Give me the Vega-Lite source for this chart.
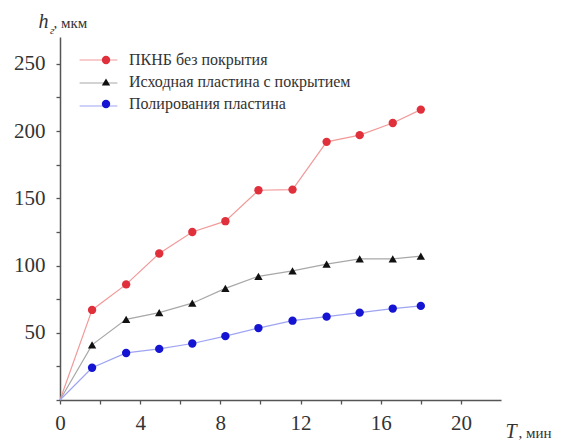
{
  "$schema": "https://vega.github.io/schema/vega-lite/v6.json",
  "width": 441,
  "height": 363,
  "autosize": {"type": "none"},
  "padding": {"left": 60, "top": 37, "right": 67, "bottom": 45},
  "background": "white",
  "config": {"view": {"stroke": null}, "font": "Liberation Serif"},
  "title": {"text": "г", "orient": "top", "anchor": "start", "frame": "group", "offset": 0, "dx": -10, "dy": 25, "font": "Liberation Serif", "fontSize": 11, "fontStyle": "italic", "fontWeight": "normal", "color": "#333"},
  "data": {"values": [
    {"t": 0, "h": 0, "s": "ПКНБ без покрытия"},
    {"t": 1.6, "h": 67, "s": "ПКНБ без покрытия"},
    {"t": 3.3, "h": 86, "s": "ПКНБ без покрытия"},
    {"t": 4.95, "h": 109, "s": "ПКНБ без покрытия"},
    {"t": 6.6, "h": 125, "s": "ПКНБ без покрытия"},
    {"t": 8.25, "h": 133, "s": "ПКНБ без покрытия"},
    {"t": 9.9, "h": 156, "s": "ПКНБ без покрытия"},
    {"t": 11.6, "h": 156.5, "s": "ПКНБ без покрытия"},
    {"t": 13.3, "h": 192, "s": "ПКНБ без покрытия"},
    {"t": 14.95, "h": 197, "s": "ПКНБ без покрытия"},
    {"t": 16.6, "h": 206, "s": "ПКНБ без покрытия"},
    {"t": 18, "h": 216, "s": "ПКНБ без покрытия"},
    {"t": 0, "h": 0, "s": "Исходная пластина с покрытием"},
    {"t": 1.6, "h": 41, "s": "Исходная пластина с покрытием"},
    {"t": 3.3, "h": 60, "s": "Исходная пластина с покрытием"},
    {"t": 4.95, "h": 65, "s": "Исходная пластина с покрытием"},
    {"t": 6.6, "h": 72, "s": "Исходная пластина с покрытием"},
    {"t": 8.25, "h": 83, "s": "Исходная пластина с покрытием"},
    {"t": 9.9, "h": 92, "s": "Исходная пластина с покрытием"},
    {"t": 11.6, "h": 96, "s": "Исходная пластина с покрытием"},
    {"t": 13.3, "h": 101, "s": "Исходная пластина с покрытием"},
    {"t": 14.95, "h": 105, "s": "Исходная пластина с покрытием"},
    {"t": 16.6, "h": 105, "s": "Исходная пластина с покрытием"},
    {"t": 18, "h": 107, "s": "Исходная пластина с покрытием"},
    {"t": 0, "h": 0, "s": "Полирования пластина"},
    {"t": 1.6, "h": 24, "s": "Полирования пластина"},
    {"t": 3.3, "h": 35, "s": "Полирования пластина"},
    {"t": 4.95, "h": 38, "s": "Полирования пластина"},
    {"t": 6.6, "h": 42, "s": "Полирования пластина"},
    {"t": 8.25, "h": 47.5, "s": "Полирования пластина"},
    {"t": 9.9, "h": 53.5, "s": "Полирования пластина"},
    {"t": 11.6, "h": 59, "s": "Полирования пластина"},
    {"t": 13.3, "h": 62, "s": "Полирования пластина"},
    {"t": 14.95, "h": 65, "s": "Полирования пластина"},
    {"t": 16.6, "h": 68, "s": "Полирования пластина"},
    {"t": 18, "h": 70, "s": "Полирования пластина"}
  ]},
  "layer": [
    {
      "mark": {"type": "line", "interpolate": "linear", "strokeWidth": 1.2},
      "encoding": {
        "x": {"field": "t", "type": "quantitative", "scale": {"domain": [0, 22], "nice": false},
          "axis": {"values": [0, 2, 4, 6, 8, 10, 12, 14, 16, 18, 20], "labelExpr": "datum.value % 4 == 0 ? datum.label : ''", "grid": false,
            "domainColor": "#555", "domainWidth": 1.5, "tickColor": "#555", "tickWidth": 1.3, "tickSize": 4,
            "labelFont": "Liberation Serif", "labelFontSize": 21, "labelColor": "#333", "labelPadding": 8, "labelFlush": false,
            "title": "T", "titleFont": "Liberation Serif", "titleFontSize": 20, "titleFontStyle": "italic", "titleFontWeight": "normal", "titleColor": "#333",
            "titleX": 445, "titleY": 37, "titleAlign": "left", "titleBaseline": "alphabetic", "titleAnchor": null}},
        "y": {"field": "h", "type": "quantitative", "scale": {"domain": [0, 270], "nice": false},
          "axis": {"values": [0, 25, 50, 75, 100, 125, 150, 175, 200, 225, 250], "labelExpr": "datum.value % 50 == 0 && datum.value > 0 ? datum.label : ''", "grid": false,
            "domainColor": "#555", "domainWidth": 1.5, "tickColor": "#555", "tickWidth": 1.3, "tickSize": 4,
            "labelFont": "Liberation Serif", "labelFontSize": 21, "labelColor": "#333", "labelPadding": 11,
            "title": "h", "titleFont": "Liberation Serif", "titleFontSize": 20, "titleFontStyle": "italic", "titleFontWeight": "normal", "titleColor": "#333",
            "titleAngle": 0, "titleX": -22, "titleY": -10, "titleAlign": "left", "titleBaseline": "alphabetic", "titleAnchor": null}},
        "stroke": {"field": "s", "type": "nominal", "sort": null,
          "scale": {"domain": ["Исходная пластина с покрытием", "ПКНБ без покрытия", "Полирования пластина"], "range": ["#a8a8a8", "#f29a9a", "#9ea4f2"]},
          "legend": {"orient": "none", "legendX": 23.5, "legendY": 8, "values": ["ПКНБ без покрытия", "Исходная пластина с покрытием", "Полирования пластина"],
            "title": null, "symbolType": "M-1.35,0H1.35", "symbolSize": 784, "symbolStrokeWidth": 1.2,
            "labelExpr": "''", "labelFontSize": 15, "rowPadding": 0, "padding": 0, "labelOffset": 0}}
      }
    },
    {
      "transform": [{"filter": "datum.t > 0"}],
      "mark": {"type": "point", "filled": true, "size": 70, "opacity": 1},
      "encoding": {
        "x": {"field": "t", "type": "quantitative", "scale": {"domain": [0, 22], "nice": false},
          "axis": {"orient": "bottom", "labels": false, "ticks": false, "domain": false, "grid": false,
            "title": ", мин", "titleFont": "Liberation Serif", "titleFontSize": 15, "titleFontWeight": "normal", "titleColor": "#333",
            "titleX": 458, "titleY": 37, "titleAlign": "left", "titleBaseline": "alphabetic", "titleAnchor": null}},
        "y": {"field": "h", "type": "quantitative", "scale": {"domain": [0, 270], "nice": false},
          "axis": {"orient": "left", "labels": false, "ticks": false, "domain": false, "grid": false,
            "title": ", мкм", "titleFont": "Liberation Serif", "titleFontSize": 15, "titleFontWeight": "normal", "titleColor": "#333",
            "titleAngle": 0, "titleX": -7, "titleY": -10, "titleAlign": "left", "titleBaseline": "alphabetic", "titleAnchor": null}},
        "color": {"field": "s", "type": "nominal", "sort": null,
          "scale": {"domain": ["ПКНБ без покрытия", "Исходная пластина с покрытием", "Полирования пластина"], "range": ["#e0303c", "#111111", "#1414d2"]},
          "legend": {"orient": "none", "legendX": 38, "legendY": 15, "title": null, "labelFontSize": 16, "labelFont": "Liberation Serif", "labelColor": "#333", "labelLimit": 400, "rowPadding": 6, "padding": 0, "labelOffset": 15, "symbolSize": 70}},
        "shape": {"field": "s", "type": "nominal", "sort": null,
          "scale": {"domain": ["ПКНБ без покрытия", "Исходная пластина с покрытием", "Полирования пластина"], "range": ["circle", "triangle-up", "circle"]},
          "legend": null}
      }
    }
  ],
  "resolve": {"axis": {"x": "independent", "y": "independent"}}
}
